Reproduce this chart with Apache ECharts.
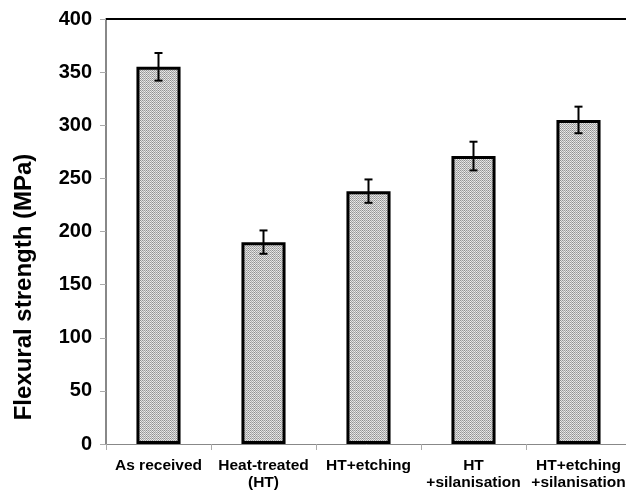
<!DOCTYPE html>
<html><head><meta charset="utf-8">
<script src="https://cdn.jsdelivr.net/npm/echarts@6/dist/echarts.min.js"></script>
<style>html,body{margin:0;padding:0;background:#fff}#c{width:626px;height:494px}</style>
</head><body><div id="c"></div>
<script>
const categories = ['As received', 'Heat-treated\n(HT)', 'HT+etching', 'HT\n+silanisation', 'HT+etching\n+silanisation'];
const strength = [355, 190, 238, 271, 305];
const errors = [13, 11, 11, 13.5, 12.5];
const yTicks = [0, 50, 100, 150, 200, 250, 300, 350, 400];
const yTitle = 'Flexural strength (MPa)';

// texture for bars
const pc = document.createElement('canvas');
pc.width = 6; pc.height = 2;
const pctx = pc.getContext('2d');
const colA = ['#eaeaea', '#d8d8d8', '#f0f0f0', '#dedede', '#e6e6e6', '#d4d4d4'];
const colB = ['#9a9a9a', '#aaaaaa', '#8c8c8c', '#a4a4a4', '#969696', '#b0b0b0'];
for (let x = 0; x < 6; x++) {
  for (let y = 0; y < 2; y++) {
    pctx.fillStyle = ((x + y) % 2 === 0) ? colB[x] : colA[x];
    pctx.fillRect(x, y, 1, 1);
  }
}

const chart = echarts.init(document.getElementById('c'));
const font = 'Liberation Sans, Arial, sans-serif';
chart.setOption({
  animation: false,
  grid: {left: 106, right: -5, top: 19, bottom: 50, containLabel: false, outerBoundsMode: 'none'},
  graphic: [{
    type: 'text', x: 24, y: 287, rotation: Math.PI / 2,
    style: {text: yTitle, fill: '#000', font: 'bold 24px ' + font, align: 'center', verticalAlign: 'middle'}
  }],
  xAxis: {
    type: 'category', data: categories,
    axisLine: {lineStyle: {color: '#888', width: 1}},
    axisTick: {show: true, length: 6, lineStyle: {color: '#aaa'}},
    axisLabel: {interval: 0, hideOverlap: false, color: '#000', fontWeight: 'bold', fontSize: 15.5, fontFamily: font, margin: 13, lineHeight: 17}
  },
  yAxis: {
    type: 'value', min: 0, max: 400, interval: 50,
    axisLine: {show: true, lineStyle: {color: '#888', width: 2}},
    axisTick: {show: true, length: 6, lineStyle: {color: '#aaa'}},
    splitLine: {show: false},
    axisLabel: {color: '#000', fontWeight: 'bold', fontSize: 20, fontFamily: font, margin: 14,
      formatter: v => yTicks.includes(v) ? String(v) : ''}
  },
  series: [
    {
      type: 'bar', data: strength, barWidth: '42%',
      itemStyle: {color: {image: pc, repeat: 'repeat'}, borderColor: '#000', borderWidth: 3},
      markLine: {
        silent: true, symbol: 'none', label: {show: false},
        lineStyle: {color: '#000', width: 2, type: 'solid'},
        data: [{yAxis: 400}]
      }
    },
    {
      type: 'custom',
      data: strength.map((v, i) => [i, v - errors[i], v + errors[i]]),
      renderItem: function (params, api) {
        const lo = api.coord([api.value(0), api.value(1)]);
        const hi = api.coord([api.value(0), api.value(2)]);
        const w = 4;
        const st = {stroke: '#000', lineWidth: 2};
        return {type: 'group', children: [
          {type: 'line', shape: {x1: hi[0], y1: hi[1], x2: lo[0], y2: lo[1]}, style: st},
          {type: 'line', shape: {x1: hi[0]-w, y1: hi[1], x2: hi[0]+w, y2: hi[1]}, style: st},
          {type: 'line', shape: {x1: lo[0]-w, y1: lo[1], x2: lo[0]+w, y2: lo[1]}, style: st}
        ]};
      },
      z: 5
    }
  ]
});
</script></body></html>
